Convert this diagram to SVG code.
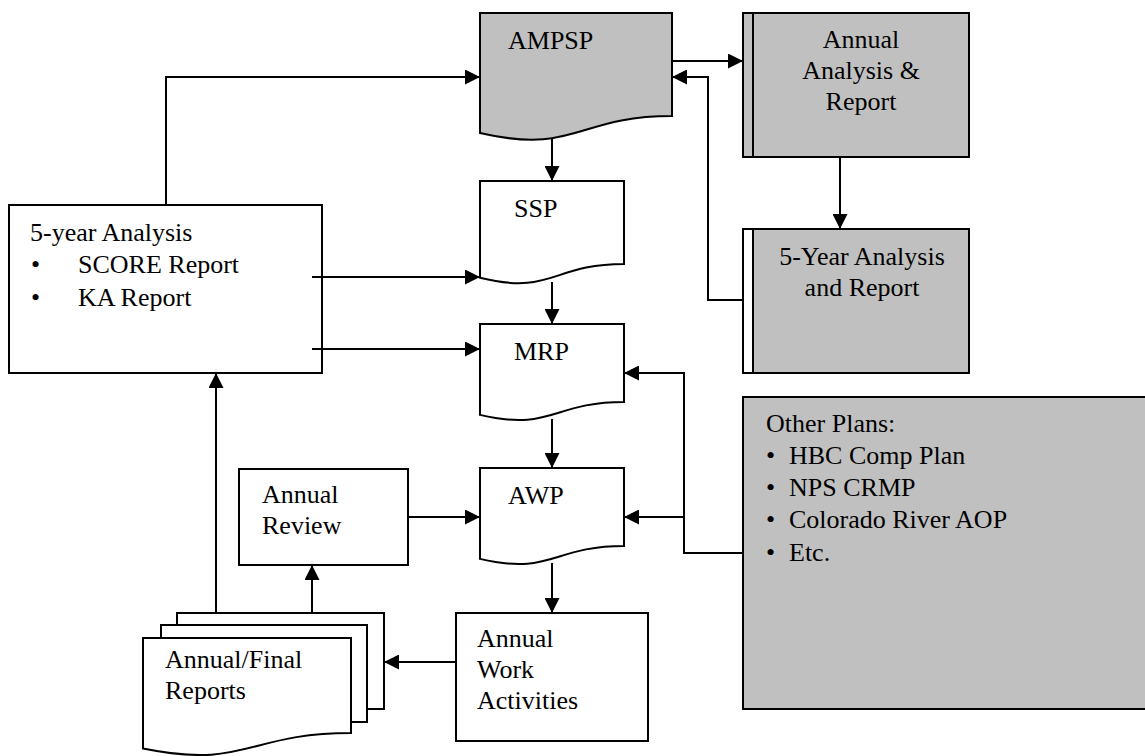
<svg xmlns="http://www.w3.org/2000/svg" width="1145" height="756" viewBox="0 0 1145 756">
<defs>
<marker id="ah" markerUnits="userSpaceOnUse" markerWidth="15" markerHeight="15" viewBox="0 0 15 15" refX="15" refY="7.5" orient="auto">
<path d="M0,0 L15,7.5 L0,15 Z" fill="#000"/>
</marker>
</defs>
<rect width="1145" height="756" fill="#fff"/>

<g id="ampsp">
<path d="M480,13 H672 V116 C576,116 576,155.2 480,133 Z" fill="#c0c0c0" stroke="#000" stroke-width="2"/>
<text font-family="Liberation Serif" font-size="26" x="508" y="49">AMPSP</text>
</g>

<g id="ssp">
<path d="M480,181 H624 V264 C552,264 552,295.6 480,277.7 Z" fill="#fff" stroke="#000" stroke-width="2"/>
<text font-family="Liberation Serif" font-size="26" x="514" y="217">SSP</text>
</g>

<g id="mrp">
<path d="M480,324 H624 V402 C552,402 552,431.7 480,414.9 Z" fill="#fff" stroke="#000" stroke-width="2"/>
<text font-family="Liberation Serif" font-size="26" x="514" y="360">MRP</text>
</g>

<g id="awp">
<path d="M480,468 H624 V546 C552,546 552,575.7 480,558.9 Z" fill="#fff" stroke="#000" stroke-width="2"/>
<text font-family="Liberation Serif" font-size="26" x="508" y="504">AWP</text>
</g>

<g id="annual-analysis">
<rect x="743" y="13" width="226" height="144" fill="#c0c0c0" stroke="#000" stroke-width="2"/>
<line x1="753" y1="13" x2="753" y2="157" stroke="#000" stroke-width="2"/>
<text font-family="Liberation Serif" font-size="26" text-anchor="middle" x="861" y="48">Annual</text>
<text font-family="Liberation Serif" font-size="26" text-anchor="middle" x="861" y="79">Analysis &amp;</text>
<text font-family="Liberation Serif" font-size="26" text-anchor="middle" x="861" y="110">Report</text>
</g>

<g id="five-year-report">
<rect x="743" y="229" width="226" height="144" fill="#fff" stroke="#000" stroke-width="2"/>
<rect x="753" y="229" width="216" height="144" fill="#c0c0c0" stroke="#000" stroke-width="2"/>
<text font-family="Liberation Serif" font-size="26" text-anchor="middle" x="862" y="265">5-Year Analysis</text>
<text font-family="Liberation Serif" font-size="26" text-anchor="middle" x="862" y="296">and Report</text>
</g>

<g id="five-year-analysis">
<rect x="9" y="205" width="313" height="168" fill="#fff" stroke="#000" stroke-width="2"/>
<text font-family="Liberation Serif" font-size="26" x="30" y="241">5-year Analysis</text>
<text font-family="Liberation Serif" font-size="26" x="31" y="273">&#8226;</text>
<text font-family="Liberation Serif" font-size="26" x="78" y="273">SCORE Report</text>
<text font-family="Liberation Serif" font-size="26" x="31" y="306">&#8226;</text>
<text font-family="Liberation Serif" font-size="26" x="78" y="306">KA Report</text>
</g>

<g id="other-plans">
<rect x="743" y="397" width="410" height="312" fill="#c0c0c0" stroke="#000" stroke-width="2"/>
<text font-family="Liberation Serif" font-size="26" x="766" y="432">Other Plans:</text>
<text font-family="Liberation Serif" font-size="26" x="766" y="464">&#8226;</text>
<text font-family="Liberation Serif" font-size="26" x="789" y="464">HBC Comp Plan</text>
<text font-family="Liberation Serif" font-size="26" x="766" y="496">&#8226;</text>
<text font-family="Liberation Serif" font-size="26" x="789" y="496">NPS CRMP</text>
<text font-family="Liberation Serif" font-size="26" x="766" y="528">&#8226;</text>
<text font-family="Liberation Serif" font-size="26" x="789" y="528">Colorado River AOP</text>
<text font-family="Liberation Serif" font-size="26" x="766" y="561">&#8226;</text>
<text font-family="Liberation Serif" font-size="26" x="789" y="561">Etc.</text>
</g>

<g id="annual-review">
<rect x="239" y="469" width="169" height="96" fill="#fff" stroke="#000" stroke-width="2"/>
<text font-family="Liberation Serif" font-size="26" x="262" y="503">Annual</text>
<text font-family="Liberation Serif" font-size="26" x="262" y="534">Review</text>
</g>

<g id="annual-work">
<rect x="456" y="613" width="192" height="128" fill="#fff" stroke="#000" stroke-width="2"/>
<text font-family="Liberation Serif" font-size="26" x="477" y="647">Annual</text>
<text font-family="Liberation Serif" font-size="26" x="477" y="678">Work</text>
<text font-family="Liberation Serif" font-size="26" x="477" y="709">Activities</text>
</g>

<g id="annual-final-reports">
<rect x="177" y="613" width="207" height="96" fill="#fff" stroke="#000" stroke-width="2"/>
<rect x="161" y="625" width="206" height="97" fill="#fff" stroke="#000" stroke-width="2"/>
<path d="M143,638 H351 V733 C247,733 247,769.6 143,748.5 Z" fill="#fff" stroke="#000" stroke-width="2"/>
<text font-family="Liberation Serif" font-size="26" x="165" y="668">Annual/Final</text>
<text font-family="Liberation Serif" font-size="26" x="165" y="699">Reports</text>
</g>

<g id="connectors" fill="none" stroke="#000" stroke-width="2">
<path d="M166,205 V77 H480" marker-end="url(#ah)"/>
<path d="M312,277 H480" marker-end="url(#ah)"/>
<path d="M312,349 H480" marker-end="url(#ah)"/>
<path d="M552,138 V181" marker-end="url(#ah)"/>
<path d="M552,282 V324" marker-end="url(#ah)"/>
<path d="M552,419 V468" marker-end="url(#ah)"/>
<path d="M552,563 V613" marker-end="url(#ah)"/>
<path d="M672,61 H743" marker-end="url(#ah)"/>
<path d="M743,300 H708 V77 H672" marker-end="url(#ah)"/>
<path d="M840,157 V229" marker-end="url(#ah)"/>
<path d="M743,553 H684 V373 H624" marker-end="url(#ah)"/>
<path d="M684,517 H624" marker-end="url(#ah)"/>
<path d="M408,517 H480" marker-end="url(#ah)"/>
<path d="M456,662 H384" marker-end="url(#ah)"/>
<path d="M312,613 V565" marker-end="url(#ah)"/>
<path d="M216,613 V373" marker-end="url(#ah)"/>
</g>
</svg>
